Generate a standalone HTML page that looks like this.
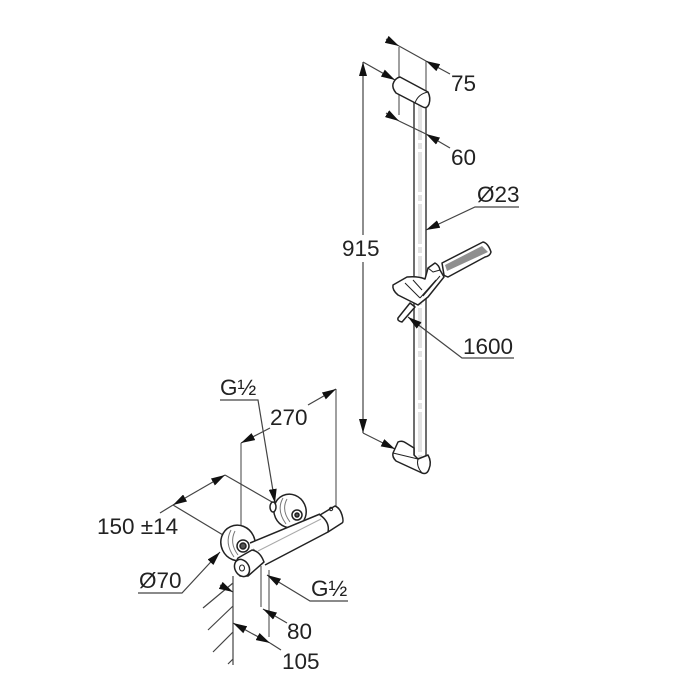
<!DOCTYPE html>
<html><head><meta charset="utf-8"><style>
html,body{margin:0;padding:0;background:#fff}svg{display:block;filter:blur(0.35px)}
text{font-family:"Liberation Sans",sans-serif;font-size:22.5px;fill:#222}
</style></head><body>
<svg width="700" height="700" viewBox="0 0 700 700" xmlns="http://www.w3.org/2000/svg">
<defs><marker id="a" viewBox="0 0 14 8" refX="14" refY="4" markerWidth="14" markerHeight="8" orient="auto-start-reverse" markerUnits="userSpaceOnUse"><path d="M0 0L14 4L0 8Z" fill="#111"/></marker></defs>
<g fill="none" stroke="#777" stroke-width="1.4">
<path d="M399 47V115M426 61V92M241 443V535M336 389V507M261 566V607M269 570V637"/>
</g>
<g fill="none" stroke="#444" stroke-width="1.2">
<path d="M225 475L272 502M173 505L223 535M233 576V665M203 608L233 583M208 630L233 606M213 652L233 632M228 664L233 659"/>
</g>
<!-- rail -->
<path d="M420 100V458" stroke="#e2e2e2" stroke-width="4" stroke-dasharray="40 3 6 3"/>
<path d="M414 100V458M426 100V456" stroke="#555" stroke-width="1.7" fill="none"/>
<!-- dimensions -->
<g fill="none" stroke="#444" stroke-width="1.2" marker-end="url(#a)">
<path d="M386 39L399 46"/><path d="M450 74L426 61"/>
<path d="M386 113L399 121"/><path d="M450 148L426 134"/>
<path d="M363 235V62"/><path d="M363 262V433"/>
<path d="M363 62L395 80"/><path d="M363 433L395 449"/>
<path d="M519 207H475L426 230"/>
<path d="M514 358H462L408 317"/>
<path d="M220 400H258L275 503"/>
<path d="M270 428L241 443"/><path d="M308 405L336 389"/>
<path d="M199 490L225 475"/><path d="M199 490L173 505"/>
<path d="M138 593H182L220 552"/>
<path d="M348 601H310L267 575"/>
<path d="M220 585L233 592"/><path d="M287 623L263 609"/>
<path d="M251 633L233 623"/><path d="M251 633L270 643"/>
</g>
<path d="M173 505L160 513M399 46L426 61M399 121L426 134" stroke="#444" stroke-width="1.2" fill="none"/>
<path d="M270 643L281 650" stroke="#444" stroke-width="1.2"/>
<!-- brackets -->
<g stroke="#222" stroke-width="1.5" fill="#fff" stroke-linejoin="round">
<path d="M400 77L428 92Q431 98 429 104Q427 109 423 107L396 93Q392 88 393 84Q395 78 400 77Z"/>
<path d="M428 92Q418 94 415 103" fill="none" stroke-width="1"/>
<path d="M398 442Q402 440 406 443L414 448V455L418 459L428 455Q432 462 429 469Q427 475 422 473L396 461Q392 457 393 453Z"/>
<path d="M393 453L418 459Q416 466 422 473" fill="none" stroke-width="1"/>
<!-- hand shower -->
<path d="M442 263L483 242Q488 243 491 252Q490 256 485 257L448 277Q445 276 444 275Z"/>
<path d="M445 265L482 246L488 252L447 271Z" fill="#8f8f8f" stroke="none"/>
<!-- clamp -->
<path d="M398 318L410 303L415 307L402 322Q397 321 398 318Z"/>
<path d="M393 285L407 277Q418 276 425 279L428 268L435 263Q439 265 440 270L444 277L428 297L418 305L398 295Q392 290 393 285Z"/>
<path d="M405 283L414 292L420 298M428 268L433 272L440 270M413 280L422 290M420 298L436 280M423 296L440 276" fill="none" stroke-width="1"/>
<!-- mixer right disc -->
<ellipse cx="290" cy="511" rx="16" ry="17" transform="rotate(-25 290 511)"/>
<path d="M283 498Q276 510 286 524M287 499Q281 510 290 522" fill="none" stroke="#777" stroke-width="1"/>
<ellipse cx="273" cy="507" rx="3" ry="5"/>
<circle cx="297" cy="515" r="5"/><circle cx="297" cy="515" r="2" fill="#555"/>
<!-- left disc -->
<ellipse cx="238" cy="543" rx="17" ry="18" transform="rotate(-25 238 543)"/>
<path d="M231 530Q224 543 234 557M235 531Q229 543 238 555" fill="none" stroke="#777" stroke-width="1"/>
<!-- body -->
<path d="M250 543L320 513L328 532L265 565Z" stroke="none"/>
<path d="M250 543L320 514M265 565L328 532" fill="none"/>
<path d="M320 515L335 506Q340 508 342 515Q344 522 342 523L328 532Q330 522 320 515Z"/>
<circle cx="243" cy="546" r="6"/><circle cx="243" cy="546" r="3" fill="#555"/>
<path d="M238 558L252 550Q260 551 264 562L248 576L240 576Q233 566 238 558Z"/>
<ellipse cx="242" cy="568" rx="7" ry="9" transform="rotate(-30 242 568)"/>
<ellipse cx="242" cy="568" rx="2.5" ry="3" fill="none" stroke-width="1"/>
<circle cx="331" cy="509" r="1.7" fill="none" stroke-width="1"/>
</g>
<path d="M258 551L321 519" stroke="#aaa" stroke-width="1" fill="none"/>
<!-- labels -->
<text x="451" y="91">75</text>
<text x="451" y="165">60</text>
<text x="477" y="202">Ø23</text>
<text x="342" y="256">915</text>
<text x="463" y="354">1600</text>
<text x="220" y="395">G½</text>
<text x="270" y="425">270</text>
<text x="97" y="534">150 ±14</text>
<text x="139" y="588">Ø70</text>
<text x="311" y="596">G½</text>
<text x="287" y="639">80</text>
<text x="282" y="669">105</text>
</svg>
</body></html>
